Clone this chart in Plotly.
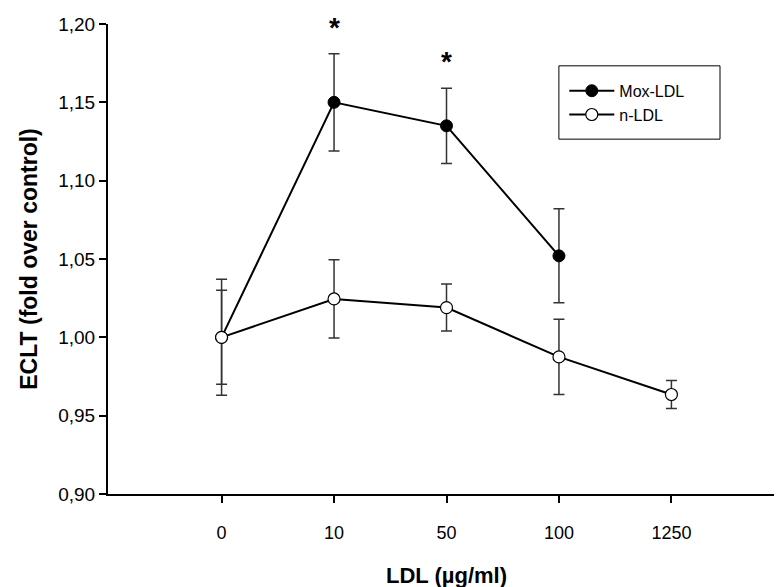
import plotly.graph_objects as go

categories = ["0", "10", "50", "100", "1250"]
mox_ldl = [1.000, 1.150, 1.135, 1.052]
mox_err = [0.030, 0.031, 0.024, 0.030]
n_ldl = [1.000, 1.0245, 1.019, 0.9875, 0.9635]
n_err = [0.037, 0.025, 0.015, 0.024, 0.009]
significance = ["", "*", "*", ""]
y_ticks = [0.90, 0.95, 1.00, 1.05, 1.10, 1.15, 1.20]
Y_RANGE = [0.90, 1.20]

FONT = "Liberation Sans, Arial, sans-serif"

fig = go.Figure()
fig.add_trace(go.Scatter(
    x=categories[:len(mox_ldl)], y=mox_ldl, name="Mox-LDL", mode="lines+markers",
    line=dict(color="black", width=2),
    marker=dict(symbol="circle", size=12, color="black", line=dict(color="black", width=1)),
    error_y=dict(type="data", array=mox_err, visible=True, color="#333333", thickness=1.5, width=5.5),
))
fig.add_trace(go.Scatter(
    x=categories, y=n_ldl, name="n-LDL", mode="lines+markers",
    line=dict(color="black", width=2),
    marker=dict(symbol="circle", size=12, color="white", line=dict(color="black", width=1.2)),
    error_y=dict(type="data", array=n_err, visible=True, color="#333333", thickness=1.5, width=5.5),
))

# significance marks just above the upper error bar (paper y so they may sit above the axis top)
for i, (v, e, s) in enumerate(zip(mox_ldl, mox_err, significance)):
    if s:
        y_val = v + e + 0.017
        fig.add_annotation(x=i, xref="x", yref="paper",
                           y=(y_val - Y_RANGE[0]) / (Y_RANGE[1] - Y_RANGE[0]),
                           text="<b>" + s + "</b>", showarrow=False, yanchor="middle",
                           font=dict(size=28, color="black", family=FONT))

# legend frame
fig.add_shape(type="rect", xref="paper", yref="paper", x0=0.666, x1=0.904, y0=0.755, y1=0.911,
              line=dict(color="black", width=1), fillcolor="rgba(0,0,0,0)", layer="above")

fig.update_layout(
    width=782, height=587,
    margin=dict(l=100, r=5, t=16, b=101),
    paper_bgcolor="white", plot_bgcolor="white",
    separators=",.",
    font=dict(family=FONT, color="black", size=17),
    showlegend=True,
    legend=dict(x=0.674, y=0.894, xanchor="left", yanchor="top",
                borderwidth=0, bgcolor="rgba(0,0,0,0)", itemwidth=45,
                font=dict(size=16, family=FONT), tracegroupgap=0),
    xaxis=dict(
        type="category", range=[-1.01, 5.01],
        showline=True, linecolor="black", linewidth=2,
        ticks="outside", ticklen=7, tickwidth=2, tickcolor="black",
        showgrid=False, zeroline=False, ticklabelstandoff=14,
        tickfont=dict(size=18, family=FONT),
        title=dict(text="<b>LDL (µg/ml)</b>", font=dict(size=22, family=FONT), standoff=26),
    ),
    yaxis=dict(
        range=Y_RANGE, tickvals=y_ticks, tickformat=".2f",
        showline=True, linecolor="black", linewidth=2,
        ticks="outside", ticklen=7, tickwidth=2, tickcolor="black",
        showgrid=False, zeroline=False,
        tickfont=dict(size=19, family=FONT),
        title=dict(text="<b>ECLT (fold over control)</b>", font=dict(size=23, family=FONT), standoff=14),
    ),
)

fig.write_html("out.html")
